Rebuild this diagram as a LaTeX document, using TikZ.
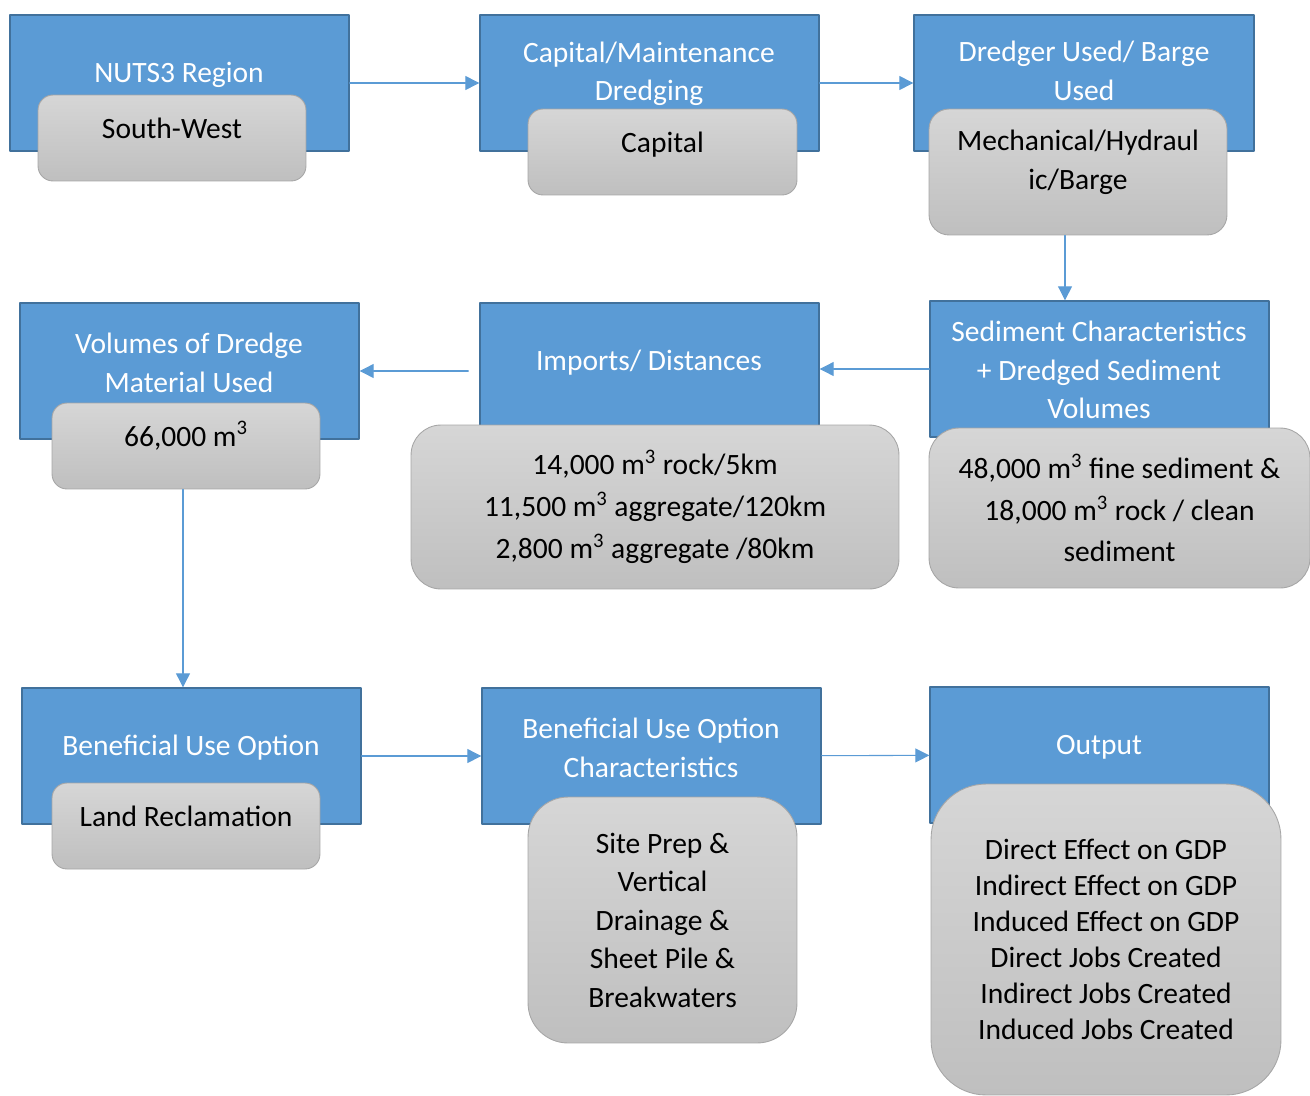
\documentclass[tikz,border=0pt]{standalone}
\usepackage{fontspec}
\setmainfont{Carlito}
\usetikzlibrary{arrows.meta}
\definecolor{boxblue}{HTML}{5B9BD5}
\definecolor{boxedge}{HTML}{41719C}
\definecolor{greytop}{HTML}{D6D6D6}
\definecolor{greybot}{HTML}{BFBFBF}
\definecolor{greyedge}{HTML}{A6A6A6}

\begin{document}
\begin{tikzpicture}[
		x=0.02cm, y=-0.02cm,
		stage/.style={rectangle, draw=boxedge, line width=0.8pt, fill=boxblue, minimum width=6.78cm, minimum height=2.72cm},
		stage title/.style={text=white, align=center, inner sep=0pt, font=\fontsize{16.8}{21.8}\selectfont},
		value/.style={rectangle, draw=greyedge, line width=0.5pt, top color=greytop, bottom color=greybot, rounded corners=0.3cm, align=center, inner sep=0pt, minimum width=5.36cm, minimum height=1.72cm, font=\fontsize{16.8}{22}\selectfont},
		raised/.style={text height=0.4cm, text depth=0.4cm},
		flow/.style={draw=boxblue, line width=0.6pt, -{Triangle[length=0.28cm, width=0.28cm]}},
		line cap=round,
		line join=round
		]
		\useasboundingbox (0,0) rectangle (1310,1095);
		
		% ---- first row ----
		\node[stage] (b1) at (179.5,83) {};
		\node[stage title] (t1) at (179,75) {NUTS3 Region};
		\node[value, raised] (g1) at (172,138) {South-West};
		
		\node[stage] (b2) at (649.5,83) {};
		\node[stage title] (t2) at (649,74) {Capital/Maintenance\\Dredging};
		\node[value, raised, minimum width=5.38cm] (g2) at (662.5,152) {Capital};
		
		\node[stage, minimum width=6.8cm] (b3) at (1084,83) {};
		\node[stage title] (t3) at (1084,71) {Dredger Used/ Barge\\Used};
		\node[value, minimum width=5.96cm, minimum height=2.52cm, rounded corners=0.4cm, text depth=0.5cm] (g3) at (1078,172) {Mechanical/Hydraul\\ic/Barge};
		
		% ---- second row ----
		\node[stage] (b4) at (1099.5,369) {};
		\node[stage title] (t4) at (1099,370) {Sediment Characteristics\\+ Dredged Sediment\\Volumes};
		\node[value, minimum width=7.62cm, minimum height=3.2cm, rounded corners=0.6cm, font=\fontsize{16.8}{23.6}\selectfont] (g4) at (1119.5,508) {48,000 m\textsuperscript{3} fine sediment \&\\18,000 m\textsuperscript{3} rock / clean\\sediment};
		
		\node[stage] (b5) at (649.5,371) {};
		\node[stage title] (t5) at (649,363) {Imports/ Distances};
		\node[value, minimum width=9.76cm, minimum height=3.28cm, rounded corners=0.6cm, font=\fontsize{16.8}{23.8}\selectfont] (g5) at (655,507) {14,000 m\textsuperscript{3} rock/5km\\11,500 m\textsuperscript{3} aggregate/120km\\2,800 m\textsuperscript{3} aggregate /80km};
		
		\node[stage] (b6) at (189.5,371) {};
		\node[stage title] (t6) at (189,363) {Volumes of Dredge\\Material Used};
		\node[value, raised] (g6) at (186,446) {66,000 m\textsuperscript{3}};
		
		% ---- third row ----
		\node[stage] (b7) at (191.5,756) {};
		\node[stage title] (t7) at (191,748) {Beneficial Use Option};
		\node[value, raised] (g7) at (186,826) {Land Reclamation};
		
		\node[stage] (b8) at (651.5,756) {};
		\node[stage title] (t8) at (651,748) {Beneficial Use Option\\Characteristics};
		\node[value, minimum width=5.38cm, minimum height=4.92cm, rounded corners=0.8cm, font=\fontsize{16.8}{21.9}\selectfont] (g8) at (662.5,920) {Site Prep \&\\Vertical\\Drainage \&\\Sheet Pile \&\\Breakwaters};
		
		\node[stage] (b9) at (1099.5,755) {};
		\node[stage title] (t9) at (1099,747) {Output};
		\node[value, minimum width=7.0cm, minimum height=6.22cm, rounded corners=1.1cm, font=\fontsize{16.8}{20.5}\selectfont] (g9) at (1106,939.5) {Direct Effect on GDP\\Indirect Effect on GDP\\Induced Effect on GDP\\Direct Jobs Created\\Indirect Jobs Created\\Induced Jobs Created};
		
		% ---- arrows ----
		\draw[flow] (b1) -- (b2);
		\draw[flow] (b2) -- (b3);
		\draw[flow] ([xshift=-0.26cm]g3.south) -- ([xshift=-0.26cm]g3.south |- b4.north);
		\draw[flow] (b4.west) -- (b4.west -| b5.east);
		\draw[flow, shorten <=0.22cm] (b5.west) -- (b5.west -| b6.east);
		\draw[flow] ([xshift=-0.06cm]g6.south) -- ([xshift=-0.06cm]g6.south |- b7.north);
		\draw[flow] (b7) -- (b8);
		\draw[flow] (b8) -- (b9);
	\end{tikzpicture}
\end{document}
